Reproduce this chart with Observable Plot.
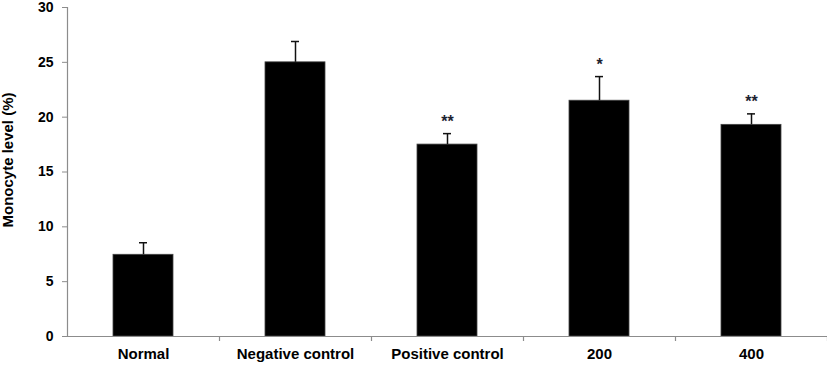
<!DOCTYPE html>
<html><head><meta charset="utf-8">
<script src="https://cdn.jsdelivr.net/npm/d3@7"></script>
<script src="https://cdn.jsdelivr.net/npm/@observablehq/plot@0.6"></script>
<style>body{margin:0;background:#fff} svg{overflow:visible}</style>
</head><body><div id="chart"></div>
<script>
const groups = ["Normal", "Negative control", "Positive control", "200", "400"];
const means = [7.45, 25.0, 17.5, 21.5, 19.3];
const errors = [1.1, 1.9, 1.0, 2.2, 1.0];
const sig = ["", "", "**", "*", "**"];
const yTicks = [0, 5, 10, 15, 20, 25, 30];
const yTitle = "Monocyte level (%)";

const data = groups.map((g, i) => ({group: g, mean: means[i], err: errors[i], sig: sig[i]}));
const W = 827, H = 365, mL = 67, mR = 0;
const bw = (W - mL - mR) / groups.length;
const barW = 60, capW = 8;
const axisColor = "#8c8c8c";

const chart = Plot.plot({
  width: W, height: H,
  marginLeft: mL, marginRight: mR, marginTop: 7, marginBottom: 29,
  style: {fontFamily: "'Liberation Sans', Arial, sans-serif", fontWeight: "bold", background: "#fff", color: "#000", overflow: "visible"},
  x: {domain: groups, paddingInner: 0, paddingOuter: 0},
  y: {domain: [0, 30]},
  marks: [
    Plot.barY(data, {x: "group", y: "mean", fill: "#000", stroke: "#444", strokeWidth: 0.8,
      insetLeft: (bw - barW) / 2, insetRight: (bw - barW) / 2}),
    Plot.ruleX(data, {x: "group", y1: "mean", y2: d => d.mean + d.err, stroke: "#111", strokeWidth: 1.5}),
    Plot.tickY(data, {x: "group", y: d => d.mean + d.err, stroke: "#111", strokeWidth: 1.5,
      insetLeft: (bw - capW) / 2, insetRight: (bw - capW) / 2}),
    Plot.text(data, {x: "group", y: d => d.mean + d.err, text: "sig", lineAnchor: "bottom",
      dy: -7, fontSize: 16, fill: "#1c2230"}),
    Plot.ruleY([0], {stroke: axisColor, strokeWidth: 1.2}),
    Plot.ruleX([groups[0]], {x: d => d, y1: 0, y2: 30, dx: -bw / 2, stroke: axisColor, strokeWidth: 1.2}),
    Plot.ruleX(groups, {x: d => d, y1: 0, y2: 0, dx: bw / 2, insetBottom: -5, stroke: axisColor, strokeWidth: 1.2}),
    Plot.axisY({ticks: yTicks, tickSize: 5, tickPadding: 9, fontSize: 14, stroke: axisColor, label: null, tickFormat: d => d}),
    Plot.axisX({tickSize: 0, tickPadding: 12, fontSize: 15, label: null}),
    Plot.text([yTitle], {frameAnchor: "left", textAnchor: "middle", rotate: -90, dx: -59, dy: -12, fontSize: 15, fill: "#000"})
  ]
});
document.getElementById("chart").appendChild(chart);
</script>
</body></html>
